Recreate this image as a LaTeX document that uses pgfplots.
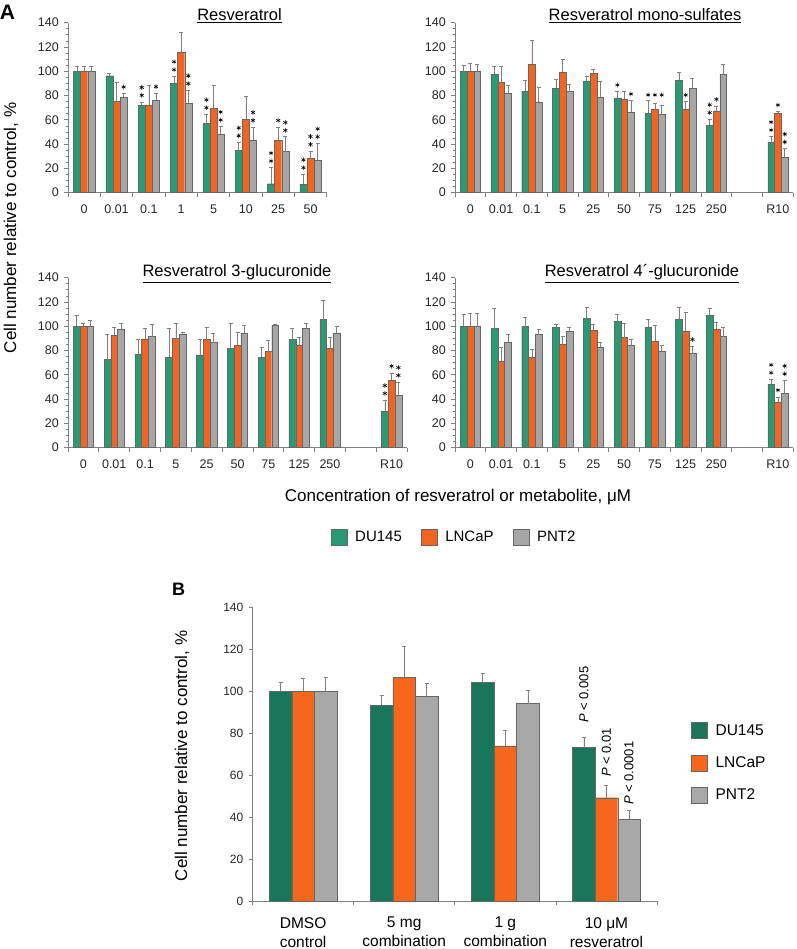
\documentclass[border=0pt]{standalone}
\usepackage{fontspec}
\setmainfont{Liberation Sans}
\usepackage{pgfplots}
\usepackage{pgfplotstable}
\pgfplotsset{compat=1.18}
\definecolor{cg}{RGB}{40,155,118}
\definecolor{co}{RGB}{242,100,34}
\definecolor{cy}{RGB}{166,166,166}
\definecolor{bg}{RGB}{26,118,90}
\definecolor{bo}{RGB}{246,102,28}
\definecolor{by}{RGB}{168,168,168}
\definecolor{axc}{RGB}{128,128,128}

\pgfplotstableread{
x g ge o oe p pe
0 100 4 100 4 100 4
1 96.3 2 75 16 78.5 3
2 72 2.7 72.2 16.2 76.3 5.5
3 90 5.8 115.6 16.7 73.8 10.5
4 57.1 7.4 69.7 18.7 48 6.4
5 35.1 6.3 60.4 18.6 43.4 10.7
6 7.4 13.2 43.1 10.4 33.8 12.3
7 7.1 8 28.3 6 26.6 14
}\resA

\pgfplotstableread{
x g ge o oe p pe
0 100 5 100 6.5 100 5.7
1 97.7 6.3 90.9 12.9 82 6.7
2 83.4 8.8 105.7 19.5 74.7 12
3 86.2 7.1 99.1 10.4 83.2 6
4 92 4 98.3 3.3 79 12.7
5 78 5.2 77.1 6.6 66.2 9.6
6 65.3 10.5 68.9 4.4 64.8 7.4
7 92.5 6.9 68.6 6.3 85.9 8.5
8 55.7 4.7 67.3 4.1 97.4 8.6
10 41.7 4.4 65.3 1.4 29.1 7.1
}\resS

\pgfplotstableread{
x g ge o oe p pe
0 100 9 100 2.7 100 4.6
1 72.6 20.8 92.6 6.3 97.5 4.7
2 77 12 89.6 8.5 91.5 9.9
3 74.5 23.9 89.9 12.3 93.4 1.9
4 76.4 12.6 89 10.5 86.6 7.4
5 81.6 21.1 84.4 10.4 94.5 6.3
6 74.5 8.5 79.2 9.3 101.1 0.5
7 89 9.6 84.7 6 98.4 3.8
8 105.5 15.9 81.6 9.4 94.5 5.5
10 30.1 9.1 55.6 6 43 11
}\resG

\pgfplotstableread{
x g ge o oe p pe
0 100 9.6 100 10.4 100 11
1 98.1 16.4 71 11.5 86.6 6.8
2 99.7 8 74.2 6.9 93.2 4.3
3 98.9 2.5 84.9 6.9 95.9 3.6
4 106.6 9.3 96.4 5 82.7 4.4
5 104.1 5.5 90.7 11.5 84.4 4.6
6 99.2 6.6 87.7 12.8 79.5 4.6
7 105.8 10.1 96.2 15.3 77.5 6.1
8 109 5.5 97.5 5.5 91.5 7.4
10 52.3 3.9 37.3 4.6 44.7 10.6
}\resF

\pgfplotstableread{
x g ge o oe p pe
0 100 4.2 100 6.3 100 6.7
1 93.5 4.5 106.9 14.8 97.8 6.1
2 104.5 4 74 7.6 94.2 6.3
3 73.2 4.9 49.3 5.7 39 4.1
}\resB

\pgfplotsset{
  base/.style={
    scale only axis, anchor=south west, clip=false,
    axis lines*=left,
    axis line style={draw=axc, line width=0.8pt, -},
    tick style={draw=axc, line width=0.7pt},
    tick align=outside,
    major tick length=4pt, minor tick length=2.5pt,
    ymin=0, ymax=140, ytick={0,20,...,140},
    /pgf/number format/assume math mode=true,
    xticklabels={},
    extra x tick style={major tick length=0pt},
  },
  panelA/.style={
    base, height=170pt, minor y tick num=3,
    tick label style={font=\fontsize{12.5}{15}\selectfont, text=black!85},
    xticklabel style={anchor=base, yshift=-20.5pt},
    yticklabel style={anchor=east, inner sep=0pt, xshift=-5pt},
  },
  errs/.style={error bars/.cd, y dir=plus, y explicit,
    error bar style={draw=axc, line width=0.6pt},
    error mark options={draw=axc, line width=0.6pt, mark size=2pt, rotate=90}},
  stars/.style={only marks, mark=asterisk, mark size=2.3pt, mark options={black, line width=0.6pt}},
  sq/.style={legend image code/.code={\draw[fill=#1, draw=black!60, line width=0.4pt] (0pt,-8pt) rectangle (16pt,8pt); \path (22pt,0pt);}},
}

\newcommand{\threebars}[5]{%
  \addplot[ybar, bar width=#5, bar shift=0, fill=#2, draw=black!60, line width=0.4pt, errs]
    table[x expr=\thisrow{x}-#5, y=g, y error=ge] {#1};
  \addplot[ybar, bar width=#5, bar shift=0, fill=#3, draw=black!60, line width=0.4pt, errs]
    table[x=x, y=o, y error=oe] {#1};
  \addplot[ybar, bar width=#5, bar shift=0, fill=#4, draw=black!60, line width=0.4pt, errs]
    table[x expr=\thisrow{x}+#5, y=p, y error=pe] {#1};
}

\begin{document}
\begin{tikzpicture}[x=1pt, y=1pt]
\useasboundingbox (0,0) rectangle (796,949);

% ---------- Panel A: Resveratrol ----------
\begin{axis}[panelA, at={(68pt,756.3pt)}, width=258.7pt,
  xmin=-0.5, xmax=7.5, xtick={-0.5,0.5,...,7.5},
  extra x ticks={0,1,2,3,4,5,6,7},
  extra x tick labels={0,0.01,0.1,1,5,10,25,50}]
\threebars{\resA}{cg}{co}{cy}{0.22}
\addplot[stars] coordinates {
 (1.22,87)
 (1.78,80.2) (1.78,86.7) (2.22,87.3)
 (2.78,101.3) (2.78,107.8) (3.22,89.8) (3.22,96.3)
 (3.78,70) (3.78,76.5) (4.22,59.9) (4.22,66.4)
 (4.78,46.9) (4.78,53.4) (5.22,59.6) (5.22,66.1)
 (5.78,26.1) (5.78,32.6) (6,59.5) (6.22,51.3) (6.22,57.8)
 (6.78,20.6) (6.78,27.1) (7,39.8) (7,46.3) (7.22,46.1) (7.22,52.6)
};
\end{axis}

% ---------- Panel A: mono-sulfates ----------
\begin{axis}[panelA, at={(455pt,756.3pt)}, width=338.3pt,
  xmin=-0.5, xmax=10.5, xtick={-0.5,0.5,...,10.5},
  extra x ticks={0,1,2,3,4,5,6,7,8,10},
  extra x tick labels={0,0.01,0.1,5,25,50,75,125,250,R10}]
\threebars{\resS}{cg}{co}{cy}{0.22}
\addplot[stars] coordinates {
 (4.78,88.7) (5.22,81.3)
 (5.78,80.5) (6,80.5) (6.22,80.5)
 (7,80.4)
 (7.78,65.9) (7.78,72.4) (8,76.9)
 (9.78,51.6) (9.78,58.1) (10,72.2) (10.22,41.7) (10.22,48.2)
};
\end{axis}

% ---------- Panel A: 3-glucuronide ----------
\begin{axis}[panelA, at={(68pt,501.3pt)}, width=339pt,
  xmin=-0.5, xmax=10.5, xtick={-0.5,0.5,...,10.5},
  extra x ticks={0,1,2,3,4,5,6,7,8,10},
  extra x tick labels={0,0.01,0.1,5,25,50,75,125,250,R10},
  legend style={at={(axis description cs:1.139,-0.525)}, anchor=center,
    draw=none, fill=none, legend columns=3, inner sep=0pt,
    font=\fontsize{15}{18}\selectfont,
    /tikz/every even column/.append style={column sep=17pt}}]
\addlegendimage{sq=cg}
\addlegendentry{DU145}
\addlegendimage{sq=co}
\addlegendentry{LNCaP}
\addlegendimage{sq=cy}
\addlegendentry{PNT2}
\threebars{\resG}{cg}{co}{cy}{0.22}
\addplot[stars] coordinates {
 (9.78,44.7) (9.78,51.2) (10,67.1) (10.22,59.5) (10.22,66)
};
\end{axis}

% ---------- Panel A: 4'-glucuronide ----------
\begin{axis}[panelA, at={(455pt,501.3pt)}, width=338.3pt,
  xmin=-0.5, xmax=10.5, xtick={-0.5,0.5,...,10.5},
  extra x ticks={0,1,2,3,4,5,6,7,8,10},
  extra x tick labels={0,0.01,0.1,5,25,50,75,125,250,R10}]
\threebars{\resF}{cg}{co}{cy}{0.22}
\addplot[stars] coordinates {
 (7.22,89.1)
 (9.78,61.7) (9.78,68.2) (10,47.4) (10.22,60.8) (10.22,67.3)
};
\end{axis}

% ---------- Panel B ----------
\begin{axis}[base, at={(252.5pt,48pt)}, width=404.5pt, height=293.3pt,
  xmin=-0.5, xmax=3.5, xtick={-0.5,0.5,...,3.5},
  extra x ticks={0,1,2,3},
  extra x tick labels={DMSO\\control, 5 mg\\combination, 1 g\\combination, 10 μM\\resveratrol},
  yticklabel style={anchor=east, inner sep=0pt, xshift=-5pt, font=\fontsize{12}{14}\selectfont, text=black!85},
  xticklabel style={anchor=north, align=center, inner sep=0pt, yshift=-16pt, font=\fontsize{15.5}{19}\selectfont},
  legend style={at={(axis description cs:1.084,0.61)}, anchor=north west,
    draw=none, fill=none, legend columns=1, inner sep=0pt, row sep=16pt,
    font=\fontsize{15.5}{18}\selectfont, legend cell align=left}]
\addlegendimage{sq=bg}
\addlegendentry{DU145}
\addlegendimage{sq=bo}
\addlegendentry{LNCaP}
\addlegendimage{sq=by}
\addlegendentry{PNT2}
\threebars{\resB}{bg}{bo}{by}{0.223}
\node[rotate=90, anchor=west, inner sep=0pt, font=\fontsize{13}{15}\selectfont] at (axis cs:2.777,85) {\textit{P} < 0.005};
\node[rotate=90, anchor=west, inner sep=0pt, font=\fontsize{13}{15}\selectfont] at (axis cs:3.0,59.2) {\textit{P} < 0.01};
\node[rotate=90, anchor=west, inner sep=0pt, font=\fontsize{13}{15}\selectfont] at (axis cs:3.223,45.8) {\textit{P} < 0.0001};
\end{axis}

% ---------- titles and labels ----------
\node[anchor=base, font=\fontsize{16.5}{20}\selectfont] at (239.5,928) {\underline{Resveratrol}};
\node[anchor=base, font=\fontsize{16.5}{20}\selectfont] at (645,928) {\underline{Resveratrol mono-sulfates}};
\node[anchor=base, font=\fontsize{16.5}{20}\selectfont] at (237,672) {\underline{Resveratrol 3-glucuronide}};
\node[anchor=base, font=\fontsize{16.5}{20}\selectfont] at (642,672) {\underline{Resveratrol 4´-glucuronide}};
\node[rotate=90, font=\fontsize{17}{20}\selectfont] at (11,721) {Cell number relative to control, \%};
\node[font=\fontsize{17}{20}\selectfont] at (458,452) {Concentration of resveratrol or metabolite, μM};
\node[rotate=90, font=\fontsize{17}{20}\selectfont] at (182,193) {Cell number relative to control, \%};
\node[font=\bfseries\fontsize{21}{24}\selectfont] at (7.5,936.5) {A};
\node[font=\bfseries\fontsize{18}{22}\selectfont] at (178.5,360) {B};
\end{tikzpicture}
\end{document}
